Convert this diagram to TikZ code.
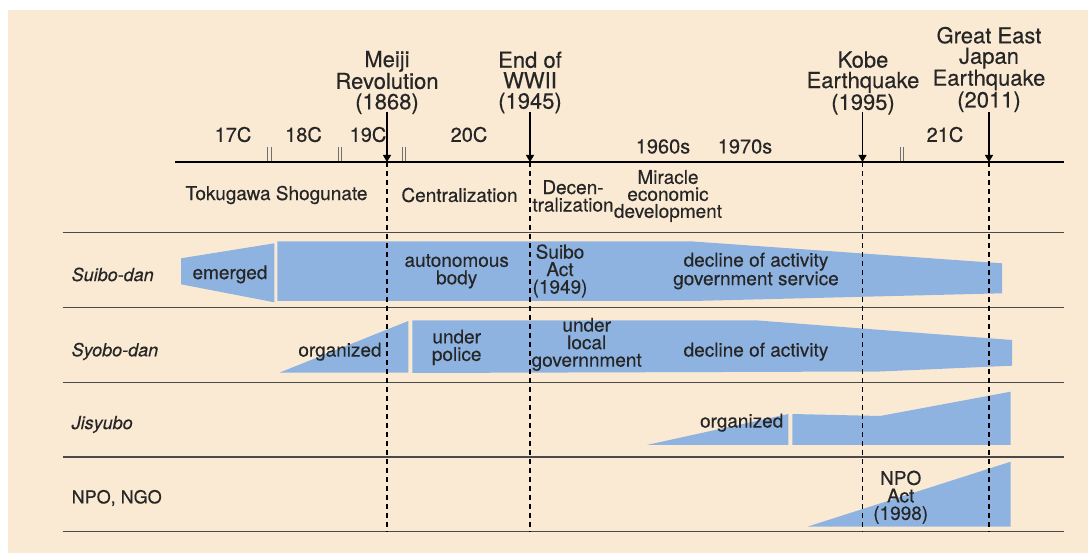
\documentclass[tikz,border=0pt]{standalone}
\usepackage{fontspec}
\setmainfont{TeX Gyre Heros}[FakeBold=0.35]
\usetikzlibrary{arrows.meta}
\definecolor{cream}{HTML}{FAEAD3}
\definecolor{bandblue}{HTML}{8EB3E1}
\definecolor{txt}{HTML}{262626}
\definecolor{rulegray}{HTML}{4A4A4A}
\definecolor{tickgray}{HTML}{707070}
\begin{document}
\begin{tikzpicture}[x=1pt,y=-1pt,
  lbl/.style={font=\fontsize{19}{17.5}\selectfont, text=txt, inner sep=0pt, align=center},
  perlbl/.style={font=\fontsize{20}{20}\selectfont, text=txt, inner sep=0pt, align=center},
  biglbl/.style={font=\fontsize{22}{20.5}\selectfont, text=txt, inner sep=0pt, align=center},
  rowlbl/.style={font=\fontsize{18}{18}\selectfont\itshape, text=txt, inner sep=0pt, anchor=west},
  band/.style={fill=bandblue, draw=none},
  axisline/.style={line width=1.8pt, black},
  rowline/.style={line width=1.4pt, rulegray},
  eraline/.style={dash pattern=on 5pt off 4pt, line width=1.3pt, black},
  eventarrow/.style={-{Triangle[length=7pt,width=8pt]}, line width=1.1pt, black},
  tickline/.style={line width=1.2pt, tickgray}
]
\useasboundingbox (0,0) rectangle (1088,553);
\fill[white] (0,0) rectangle (1088,553);
\fill[cream] (8,10) rectangle (1088,553);

% bands
\fill[band] (181,258.3) -- (274.3,243.3) -- (274.3,302.3) -- (181,284.3) -- cycle;
\fill[band] (277.3,241.5) -- (693,241.5) -- (1002,263.3) -- (1002,293.3) -- (693,301) -- (277.3,301) -- cycle;
\fill[band] (279.3,372.7) -- (408.3,321) -- (408.3,372.7) -- cycle;
\fill[band] (412.3,320.5) -- (758,320.5) -- (1012,340) -- (1012,365.7) -- (880,371.5) -- (412.3,373) -- cycle;
\fill[band] (646.7,445) -- (788.3,414) -- (788.3,445) -- cycle;
\fill[band] (792.3,414) -- (880,416) -- (1010.7,391.7) -- (1010.7,445) -- (792.3,445) -- cycle;
\fill[band] (807.3,526.7) -- (1010.7,461.7) -- (1010.7,526.7) -- cycle;

% axis and row lines
\coordinate (axL) at (175,162);
\coordinate (axR) at (1064,162);
\draw[axisline] (axL) -- (axR);
\foreach \yy/\nm in {232.5/r0,307.7/r1,382.5/r2,457/r3,531.7/r4}{
  \coordinate (\nm L) at (62.5,\yy);
  \coordinate (\nm R) at (1064,\yy);
  \draw[rowline] (\nm L) -- (\nm R);
}

% century ticks
\foreach \xx in {269.5,340,404,902}{
  \draw[tickline] (\xx-1.7,147) -- (\xx-1.7,161);
  \draw[tickline] (\xx+1.7,147) -- (\xx+1.7,161);
}

% events
\node[biglbl] (meiji) at (387,82.5) {Meiji\\Revolution\\(1868)};
\node[biglbl] (wwii) at (530,82.5) {End of\\WWII\\(1945)};
\node[biglbl] (kobe) at (863,83) {Kobe\\Earthquake\\(1995)};
\node[biglbl] (tohoku) at (989,69.5) {Great East\\Japan\\Earthquake\\(2011)};

\foreach \nm/\xx in {meiji/387,wwii/530,kobe/862.5,tohoku/989}{
  \coordinate (\nm Top) at (\xx,112);
  \coordinate (\nm Ax) at (\xx,162);
  \coordinate (\nm End) at (\xx,532);
  \draw[eventarrow] (\nm Top) -- (\nm Ax);
  \draw[eraline] (\nm Ax) -- (\nm End);
}

% period labels
\node[perlbl] (c17) at (233,134.5) {17C};
\node[perlbl] (c18) at (303.5,134.5) {18C};
\node[perlbl] (c19) at (368,134.5) {19C};
\node[perlbl] (c20) at (469,134.5) {20C};
\node[perlbl] (s60) at (663,146.5) {1960s};
\node[perlbl] (s70) at (745,146.5) {1970s};
\node[perlbl] (c21) at (945,134.5) {21C};

% eras
\node[lbl] (toku) at (276.5,195) {Tokugawa Shogunate};
\node[lbl] (cent) at (459.5,195) {Centralization};
\node[lbl] (decen) at (573,196) {Decen-\\tralization};
\node[lbl, font=\fontsize{19}{17}\selectfont] (mir) at (668,196) {Miracle\\economic\\development};

% row labels
\node[rowlbl] (suibo) at (71.5,274.5) {Suibo-dan};
\node[rowlbl] (syobo) at (71.5,351.5) {Syobo-dan};
\node[rowlbl] (jisyubo) at (71.5,424.5) {Jisyubo};
\node[rowlbl, font=\fontsize{18}{18}\selectfont] (npo) at (71.5,498) {NPO, NGO};

% band texts
\node[lbl] (emerged) at (230,274.3) {emerged};
\node[lbl] (auto) at (456.7,271.3) {autonomous\\body};
\node[lbl] (sact) at (560,271) {Suibo\\Act\\(1949)};
\node[lbl] (decl1) at (756,271) {decline of activity\\government service};
\node[lbl] (org1) at (340,351.7) {organized};
\node[lbl] (police) at (456.7,347.3) {under\\police};
\node[lbl] (local) at (586.7,344.3) {under\\local\\governnment};
\node[lbl] (decl2) at (756,351.7) {decline of activity};
\node[lbl] (org2) at (741.7,422.7) {organized};
\node[lbl] (npoact) at (900.7,497.3) {NPO\\Act\\(1998)};
\end{tikzpicture}
\end{document}
